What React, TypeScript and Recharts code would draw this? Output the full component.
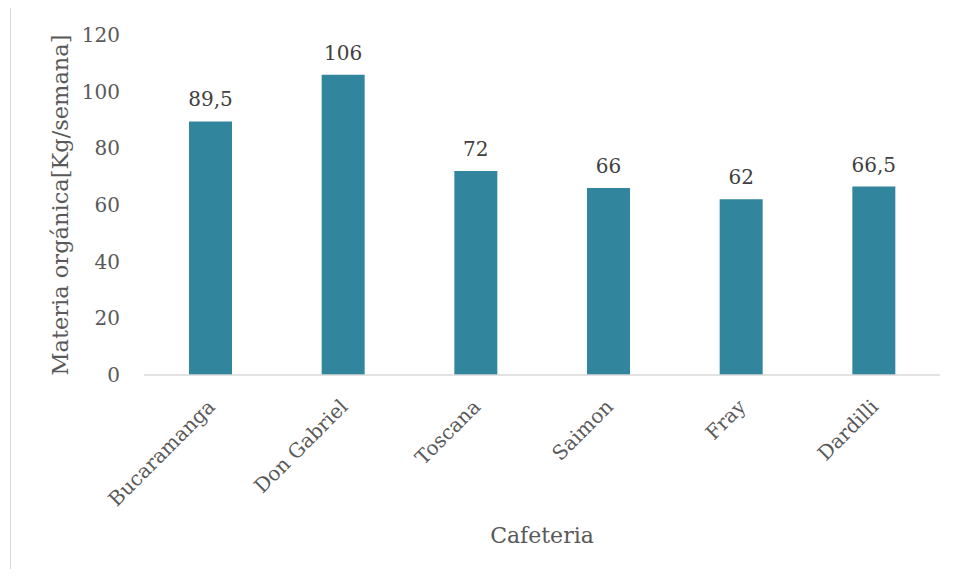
import React from 'react';
import { BarChart, Bar, XAxis, YAxis, LabelList, Label } from 'recharts';

const cafeterias = ['Bucaramanga', 'Don Gabriel', 'Toscana', 'Saimon', 'Fray', 'Dardilli'];
const materia = [89.5, 106, 72, 66, 62, 66.5];
const yTicks = [0, 20, 40, 60, 80, 100, 120];

const data = cafeterias.map((name, i) => ({ name, value: materia[i] }));

const FONT = '"DejaVu Serif", serif';

function AngledTick(props: any) {
  const { x, y, payload } = props;
  return (
    <g transform={`translate(${x + 1},${y + 20})`}>
      <text
        x={0}
        y={0}
        dy="0.35em"
        textAnchor="end"
        transform="rotate(-45)"
        fill="#595959"
        fontSize={20}
        fontFamily={FONT}
      >
        {payload.value}
      </text>
    </g>
  );
}

export default function App() {
  return (
    <div style={{ position: 'relative', width: 961, height: 577, margin: -8, overflow: 'hidden', background: '#fff' }}>
      <div
        style={{
          position: 'absolute',
          left: 10,
          top: 6,
          width: 1000,
          height: 1000,
          border: '1px solid #d9d9d9',
        }}
      />
      <div style={{ position: 'absolute', left: 0, top: 0 }}>
        <BarChart
          width={961}
          height={577}
          data={data}
          margin={{ top: 35, right: 21, bottom: 0, left: 0 }}
          barCategoryGap={0}
        >
          <XAxis
            dataKey="name"
            height={202}
            interval={0}
            tickLine={false}
            axisLine={{ stroke: '#d9d9d9', strokeWidth: 1.5 }}
            tick={<AngledTick />}
          >
            <Label
              content={(p: any) => {
                const vb = p.viewBox;
                return (
                  <text
                    x={vb.x + vb.width / 2}
                    y={vb.y + 168}
                    textAnchor="middle"
                    fill="#595959"
                    fontSize={22}
                    fontFamily={FONT}
                  >
                    Cafeteria
                  </text>
                );
              }}
            />
          </XAxis>
          <YAxis
            width={144}
            domain={[0, 120]}
            ticks={yTicks}
            tickLine={false}
            axisLine={false}
            tickSize={0}
            tickMargin={24}
            tick={{ fill: '#595959', fontSize: 20, fontFamily: FONT }}
          >
            <Label
              value="Materia orgánica[Kg/semana]"
              angle={-90}
              position="center"
              dx={-12}
              fill="#595959"
              fontSize={22.5}
              fontFamily={FONT}
            />
          </YAxis>
          <Bar dataKey="value" fill="#31859C" barSize={43} isAnimationActive={false}>
            <LabelList
              dataKey="value"
              position="top"
              offset={15}
              fill="#404040"
              fontSize={20}
              fontFamily={FONT}
              formatter={(v: any) => String(v).replace('.', ',')}
            />
          </Bar>
        </BarChart>
      </div>
    </div>
  );
}
